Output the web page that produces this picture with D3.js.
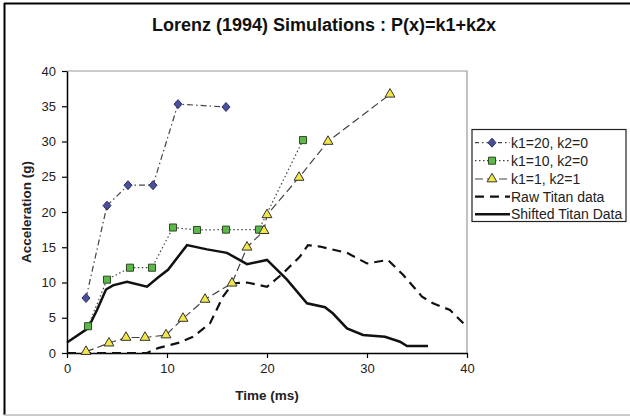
<!DOCTYPE html>
<html><head><meta charset="utf-8">
<script src="https://cdn.jsdelivr.net/npm/d3@7"></script>
<style>
body{margin:0;background:#fff;}
svg{display:block;font-family:"Liberation Sans",Arial,sans-serif;}
</style></head>
<body><svg id="c" width="630" height="417"></svg>
<script>
const title = "Lorenz (1994) Simulations : P(x)=k1+k2x";
const xLabel = "Time (ms)";
const yLabel = "Acceleration (g)";
const xTicks = [0, 10, 20, 30, 40];
const yTicks = [0, 5, 10, 15, 20, 25, 30, 35, 40];

const k20 = [[1.9,7.8],[4.0,20.9],[6.1,23.8],[8.6,23.8],[11.1,35.3],[15.9,34.9]];
const k10 = [[2.1,3.8],[4.0,10.4],[6.3,12.1],[8.5,12.1],[10.6,17.8],[13.0,17.45],[15.9,17.5],[19.2,17.5],[23.6,30.2]];
const k1k2 = [[1.9,0.2],[4.2,1.4],[5.9,2.2],[7.8,2.2],[9.9,2.55],[11.6,4.9],[13.8,7.6],[16.5,9.9],[18.0,15.0],[19.7,17.35],[20.0,19.6],[23.2,24.9],[26.1,30.0],[32.3,36.7]];
const raw = [[0,0],[2,0],[4,0],[6,0],[8,0],[9.1,0.7],[11.3,1.5],[12.6,2.3],[14.3,4.2],[15.6,8.0],[16.6,9.9],[18,10],[20,9.4],[21.6,11.3],[23.3,13.7],[24.1,15.3],[25.3,15.1],[28,14.2],[30,12.7],[32.1,13.2],[33.6,11.1],[35.5,8.0],[36.6,7.05],[38.3,6.1],[40,3.7]];
const shifted = [[0,1.5],[2.1,3.5],[3,6.1],[3.9,9.0],[4.6,9.6],[6,10.1],[8,9.4],[9.1,10.7],[10.1,11.8],[12,15.3],[14,14.7],[16,14.2],[18,12.6],[20,13.2],[22,10.4],[24,7.05],[25.8,6.5],[26.6,5.6],[28,3.5],[29.6,2.55],[31.8,2.3],[33.3,1.6],[34,1.0],[36.1,1.0]];

const legendNames = ["k1=20, k2=0","k1=10, k2=0","k1=1, k2=1","Raw Titan data","Shifted Titan Data"];

const svg = d3.select("#c");
const L = 67, R = 467, T = 71, B = 353;
const x = d3.scaleLinear().domain([0,40]).range([L,R]);
const y = d3.scaleLinear().domain([0,40]).range([B,T]);

// outer frame
svg.append("line").attr("x1",4).attr("x2",630).attr("y1",3.5).attr("y2",3.5).attr("stroke","#000").attr("stroke-width",2);
svg.append("line").attr("x1",4.5).attr("x2",4.5).attr("y1",3).attr("y2",415).attr("stroke","#000").attr("stroke-width",2);
svg.append("line").attr("x1",4).attr("x2",630).attr("y1",415).attr("y2",415).attr("stroke","#bbb").attr("stroke-width",1.5);

// plot border top/right
svg.append("path").attr("d",`M${L},${T}H${R}V${B}`).attr("fill","none").attr("stroke","#999").attr("stroke-width",1.2);

svg.append("text").attr("x",324).attr("y",31).attr("text-anchor","middle")
  .attr("font-weight","bold").attr("font-size",18).attr("fill","#111").text(title);

const xa = svg.append("g").attr("transform",`translate(0,${B})`)
  .call(d3.axisBottom(x).tickValues(xTicks).tickSize(5).tickPadding(6).tickSizeOuter(0));
const ya = svg.append("g").attr("transform",`translate(${L},0)`)
  .call(d3.axisLeft(y).tickValues(yTicks).tickSize(5).tickPadding(6).tickSizeOuter(0));
[xa,ya].forEach(a=>{
  a.select(".domain").attr("stroke","#000").attr("stroke-width",1.5);
  a.selectAll(".tick line").attr("stroke","#000").attr("stroke-width",1.2);
  a.selectAll("text").attr("font-size",13).attr("fill","#222").attr("font-family","Liberation Sans, Arial, sans-serif");
});

svg.append("text").attr("x",267).attr("y",400).attr("text-anchor","middle")
  .attr("font-weight","bold").attr("font-size",13.5).attr("fill","#222").text(xLabel);
svg.append("text").attr("transform",`translate(31,212) rotate(-90)`).attr("text-anchor","middle")
  .attr("font-weight","bold").attr("font-size",13.5).attr("fill","#222").text(yLabel);

const line = d3.line().x(d=>x(d[0])).y(d=>y(d[1]));
const clip = svg.append("g");

clip.append("path").datum(raw).attr("d",line).attr("fill","none").attr("stroke","#111").attr("stroke-width",2.2).attr("stroke-dasharray","9,6");
clip.append("path").datum(shifted).attr("d",line).attr("fill","none").attr("stroke","#111").attr("stroke-width",2.5);
clip.append("path").datum(k20).attr("d",line).attr("fill","none").attr("stroke","#444").attr("stroke-width",1.2).attr("stroke-dasharray","6,3,1.5,3");
clip.append("path").datum(k10).attr("d",line).attr("fill","none").attr("stroke","#444").attr("stroke-width",1.2).attr("stroke-dasharray","1.5,2.5");
clip.append("path").datum(k1k2).attr("d",line).attr("fill","none").attr("stroke","#444").attr("stroke-width",1.2).attr("stroke-dasharray","8,4");

const diamond = "M0,-4.5L4,0L0,4.5L-4,0Z";
const square = d3.symbol().type(d3.symbolSquare).size(50)();
const tri = d3.symbol().type(d3.symbolTriangle).size(42)();

function markers(data, sym, fill, stroke){
  clip.append("g").selectAll("path").data(data).join("path")
    .attr("transform",d=>`translate(${x(d[0])},${y(d[1])})`)
    .attr("d",sym).attr("fill",fill).attr("stroke",stroke).attr("stroke-width",1);
}
markers(k20, diamond, "#4a4f9c", "#2a2d66");
markers(k10, square, "#5cb84a", "#2d4a22");
markers(k1k2, tri, "#f2e64a", "#333");

// legend
const lg = svg.append("g");
lg.append("rect").attr("x",472).attr("y",129.5).attr("width",154).attr("height",92).attr("fill","#fff").attr("stroke","#222").attr("stroke-width",1.2);
const rowsY = [142.7,160.7,179,196.7,214.3];
const styles = [
  {dash:"4,3,1.5,3",w:1.2,sym:diamond,fill:"#4a4f9c",st:"#2a2d66"},
  {dash:"1.5,2.5",w:1.2,sym:square,fill:"#5cb84a",st:"#2d4a22"},
  {dash:"8,4",w:1.2,sym:tri,fill:"#f2e64a",st:"#333"},
  {dash:"9,6",w:2.2,sym:null},
  {dash:null,w:2.5,sym:null}
];
legendNames.forEach((n,i)=>{
  const s = styles[i], yy = rowsY[i];
  lg.append("line").attr("x1",475).attr("x2",510).attr("y1",yy).attr("y2",yy)
    .attr("stroke",i<3?"#444":"#111").attr("stroke-width",s.w).attr("stroke-dasharray",s.dash);
  if(s.sym) lg.append("path").attr("transform",`translate(492,${yy})`).attr("d",s.sym).attr("fill",s.fill).attr("stroke",s.st);
  lg.append("text").attr("x",511).attr("y",yy+5).attr("font-size",14).attr("fill","#222").text(n);
});
</script></body></html>
